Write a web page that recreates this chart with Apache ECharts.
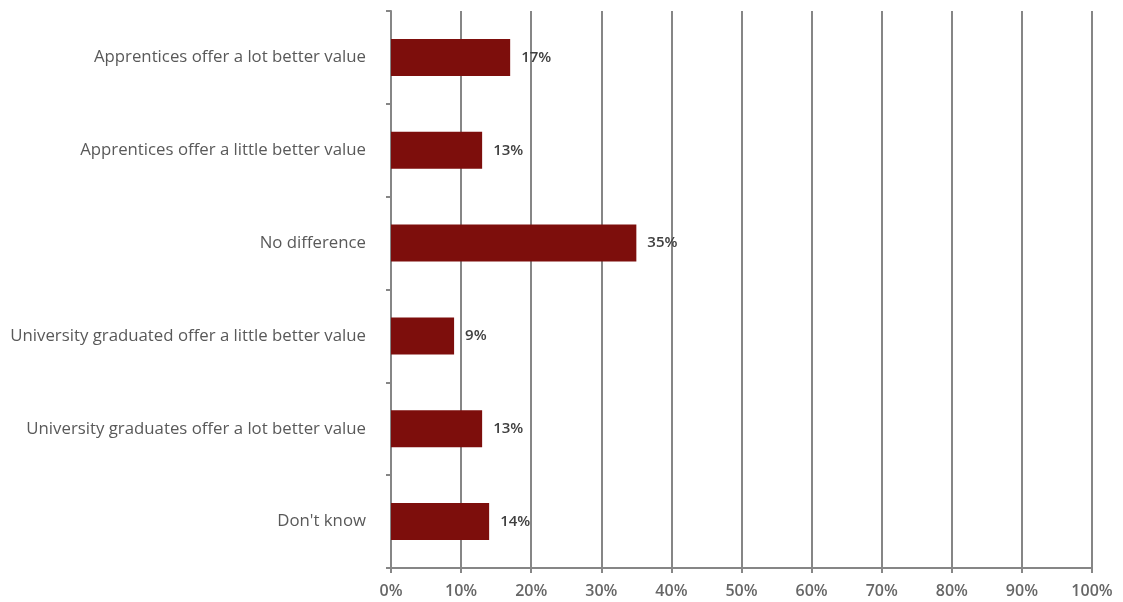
<!DOCTYPE html>
<html><head><meta charset="utf-8">
<script src="https://cdn.jsdelivr.net/npm/echarts@6/dist/echarts.min.js"></script>
<style>html,body{margin:0;padding:0;background:#fff}#c{width:1123px;height:602px}</style>
</head><body><div id="c"></div>
<script>
const categories = [
  "Apprentices offer a lot better value",
  "Apprentices offer a little better value",
  "No difference",
  "University graduated offer a little better value",
  "University graduates offer a lot better value",
  "Don't know"
];
const values = [17, 13, 35, 9, 13, 14];
const xTicks = [0, 10, 20, 30, 40, 50, 60, 70, 80, 90, 100];

const chart = echarts.init(document.getElementById('c'));
chart.setOption({
  animation: false,
  grid: { left: 391, right: 31, top: 11, bottom: 34, containLabel: false },
  xAxis: {
    type: 'value', min: xTicks[0], max: xTicks[xTicks.length - 1], interval: 10,
    axisLine: { show: true, lineStyle: { color: '#868686', width: 2 } },
    axisTick: { show: true, length: 5, lineStyle: { color: '#868686', width: 2 } },
    splitLine: { show: true, lineStyle: { color: '#868686', width: 2 } },
    axisLabel: { formatter: '{value}%', color: '#666666', fontFamily: 'Open Sans', fontSize: 16, fontWeight: 600, margin: 15 }
  },
  yAxis: {
    type: 'category', data: categories, inverse: true,
    axisLine: { show: true, lineStyle: { color: '#868686', width: 2 } },
    axisTick: { show: true, length: 5, lineStyle: { color: '#868686', width: 2 } },
    splitLine: { show: false },
    axisLabel: { color: '#595959', fontFamily: 'Open Sans', fontSize: 16.8, margin: 25, padding: [4, 0, 0, 0] }
  },
  series: [{
    type: 'bar', data: values, barWidth: 37,
    itemStyle: { color: '#7D0E0C' },
    label: { show: true, position: 'right', distance: 11, formatter: '{c}%', color: '#404040', fontFamily: 'Open Sans', fontSize: 15, fontWeight: 600 }
  }]
});
</script></body></html>
